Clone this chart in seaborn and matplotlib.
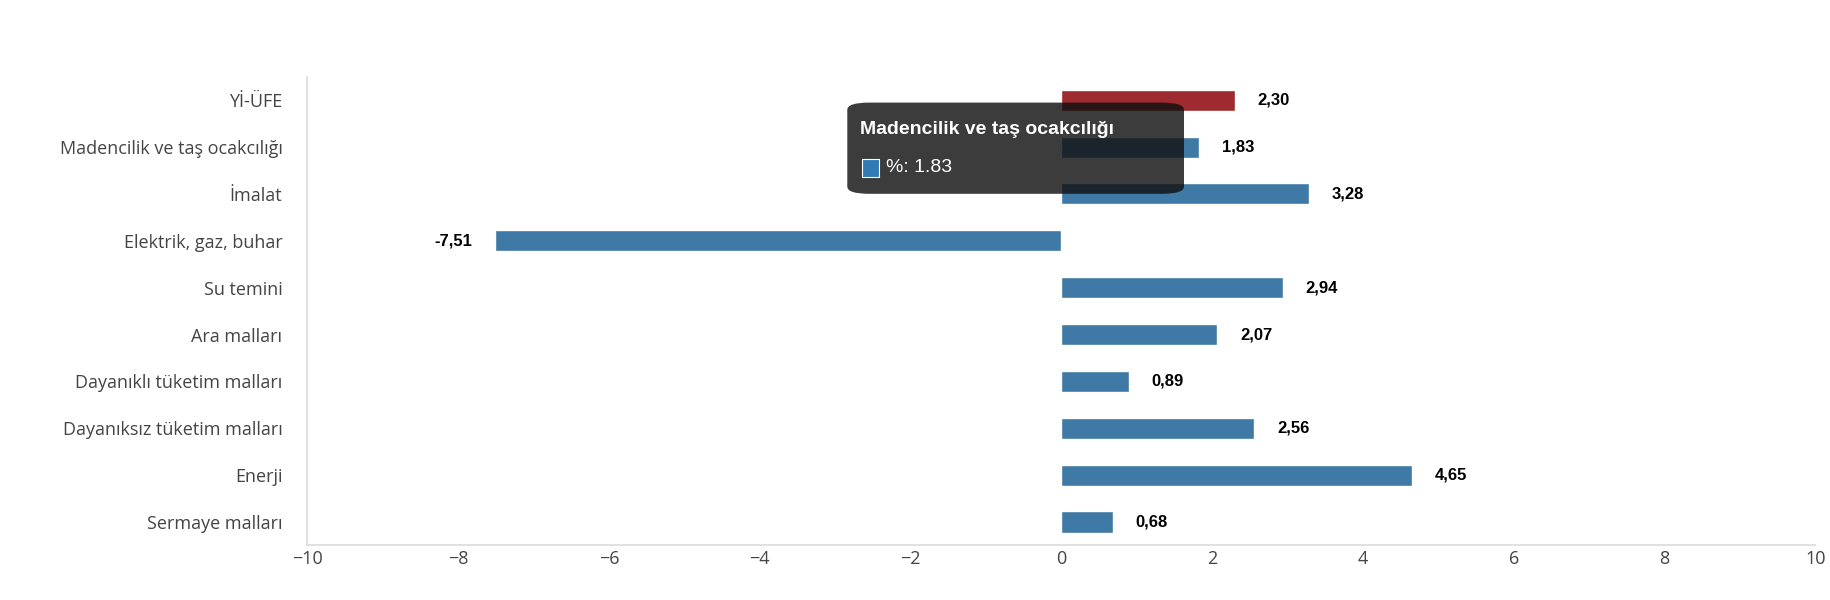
import matplotlib
matplotlib.use("Agg")
import matplotlib.pyplot as plt
import seaborn as sns
import pandas as pd
from matplotlib.patches import FancyBboxPatch

categories = ["Yİ-ÜFE", "Madencilik ve taş ocakcılığı", "İmalat", "Elektrik, gaz, buhar",
              "Su temini", "Ara malları", "Dayanıklı tüketim malları",
              "Dayanıksız tüketim malları", "Enerji", "Sermaye malları"]
values = [2.30, 1.83, 3.28, -7.51, 2.94, 2.07, 0.89, 2.56, 4.65, 0.68]
labels = ["2,30", "1,83", "3,28", "-7,51", "2,94", "2,07", "0,89", "2,56", "4,65", "0,68"]
colors = ["#b0181e"] + ["#2e7bb6"] * 9

sns.set_theme(style="white")
plt.rcParams['font.family'] = ['Open Sans', 'DejaVu Sans']

df = pd.DataFrame({"cat": categories, "val": values})
fig = plt.figure(figsize=(18.3, 6.0), dpi=100)
ax = fig.add_axes([0.168, 0.091, 0.824, 0.781])
sns.barplot(data=df, x="val", y="cat", hue="cat", palette=colors, legend=False,
            width=0.45, ax=ax, orient="h")
ax.set_xlim(-10, 10)
ax.set_xticks(range(-10, 11, 2))
ax.set_xlabel("")
ax.set_ylabel("")
ax.tick_params(axis="both", length=0, labelsize=13, colors="#444444")
ax.tick_params(axis="y", pad=18)
for s in ["top", "right"]:
    ax.spines[s].set_visible(False)
for s in ["left", "bottom"]:
    ax.spines[s].set_color("#dddddd")

for i, (v, l) in enumerate(zip(values, labels)):
    off = 0.3 if v >= 0 else -0.3
    ax.text(v + off, i, l, ha="left" if v >= 0 else "right", va="center",
            fontsize=12, fontweight="bold", family="Liberation Sans", color="black")

# tooltip
box = FancyBboxPatch((0.463, 0.677), 0.184, 0.152, boxstyle="round,pad=0,rounding_size=0.012",
                     transform=fig.transFigure, facecolor="#111111", alpha=0.82,
                     edgecolor="none", zorder=10)
fig.patches.append(box)
fig.text(0.470, 0.785, "Madencilik ve taş ocakcılığı", color="white", fontsize=14,
         fontweight="bold", family="Liberation Sans", va="center", zorder=11)
fig.patches.append(plt.Rectangle((0.471, 0.705), 0.0095, 0.03, transform=fig.transFigure,
                                 facecolor="#2e7bb6", edgecolor="white", lw=0.8, zorder=11))
fig.text(0.484, 0.720, "%: 1.83", color="white", fontsize=14,
         family="Liberation Sans", va="center", zorder=11)

fig.savefig("out.png", dpi=100)
